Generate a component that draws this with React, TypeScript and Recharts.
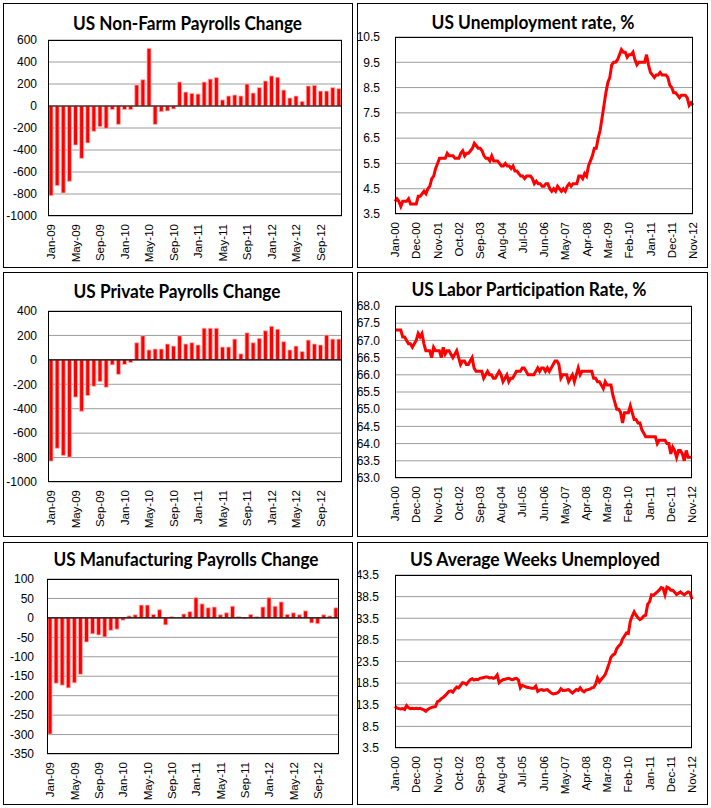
import React from 'react';
import { BarChart, Bar, LineChart, Line, XAxis, YAxis, CartesianGrid, ReferenceLine } from 'recharts';

// ---------- categories ----------
const MONTH_NAMES = ['Jan', 'Feb', 'Mar', 'Apr', 'May', 'Jun', 'Jul', 'Aug', 'Sep', 'Oct', 'Nov', 'Dec'];
function monthLabels(startYear: number, count: number): string[] {
  const out: string[] = [];
  for (let i = 0; i < count; i++) {
    const y = startYear + Math.floor(i / 12);
    out.push(`${MONTH_NAMES[i % 12]}-${String(y % 100).padStart(2, '0')}`);
  }
  return out;
}
const PAYROLL_MONTHS = monthLabels(2009, 48); // Jan-09 .. Dec-12
const LONG_MONTHS = monthLabels(2000, 155); // Jan-00 .. Nov-12

// ---------- series (thousands / %) ----------
const NONFARM = [
  -815, -724, -791, -685, -355, -476, -336, -230, -188, -203, -33, -167,
  -33, -33, 191, 239, 524, -167, -52, -45, -27, 218, 127, 115,
  109, 218, 245, 258, 55, 91, 100, 91, 200, 118, 167, 227,
  273, 261, 145, 73, 91, 42, 182, 188, 136, 136, 167, 158,
];
const PRIVATE = [
  -829, -724, -783, -797, -305, -421, -292, -216, -178, -224, -41, -119,
  -38, -22, 140, 197, 81, 89, 89, 130, 113, 197, 130, 140,
  122, 259, 259, 259, 105, 105, 170, 49, 221, 140, 176, 238,
  275, 251, 149, 81, 113, 68, 162, 130, 122, 203, 170, 170,
];
const MANUFACTURING = [
  -299, -168, -173, -180, -167, -145, -62, -41, -44, -49, -32, -29,
  -6, 5, 8, 33, 33, 9, 21, -18, 3, 0, 10, 16,
  52, 36, 26, 28, 8, 13, 30, 3, -2, 9, 3, 28,
  52, 30, 41, 9, 13, 8, 18, -13, -15, 8, 5, 26,
];
const UNEMPLOYMENT_RATE = [
  4.0, 4.1, 4.0, 3.8, 4.0, 4.0, 4.0, 4.1, 3.9, 3.9, 3.9, 3.9,
  4.2, 4.2, 4.3, 4.4, 4.3, 4.5, 4.6, 4.9, 5.0, 5.3, 5.5, 5.7,
  5.7, 5.7, 5.7, 5.9, 5.8, 5.8, 5.8, 5.7, 5.7, 5.7, 5.9, 6.0,
  5.8, 5.9, 5.9, 6.0, 6.1, 6.3, 6.2, 6.1, 6.1, 6.0, 5.8, 5.7,
  5.7, 5.6, 5.8, 5.6, 5.6, 5.6, 5.5, 5.4, 5.4, 5.5, 5.4, 5.4,
  5.3, 5.4, 5.2, 5.2, 5.1, 5.0, 5.0, 4.9, 5.0, 5.0, 5.0, 4.9,
  4.7, 4.8, 4.7, 4.7, 4.6, 4.6, 4.7, 4.7, 4.5, 4.4, 4.5, 4.4,
  4.6, 4.5, 4.4, 4.5, 4.4, 4.6, 4.7, 4.6, 4.7, 4.7, 4.7, 5.0,
  5.0, 4.9, 5.1, 5.0, 5.4, 5.6, 5.8, 6.1, 6.1, 6.5, 6.8, 7.3,
  7.8, 8.3, 8.7, 8.9, 9.4, 9.5, 9.5, 9.6, 9.8, 10.0, 9.9, 9.9,
  9.7, 9.8, 9.8, 9.9, 9.6, 9.4, 9.5, 9.5, 9.5, 9.5, 9.8, 9.4,
  9.1, 9.0, 8.9, 9.0, 9.0, 9.1, 9.0, 9.0, 9.0, 8.9, 8.6, 8.5,
  8.3, 8.3, 8.2, 8.1, 8.2, 8.2, 8.2, 8.1, 7.8, 7.9, 7.8,
];
const PARTICIPATION_RATE = [
  67.3, 67.3, 67.3, 67.3, 67.1, 67.1, 67.0, 66.9, 66.9, 66.8, 66.9, 67.0,
  67.2, 67.1, 67.2, 66.9, 66.7, 66.7, 66.7, 66.5, 66.8, 66.7, 66.7, 66.7,
  66.5, 66.8, 66.6, 66.7, 66.7, 66.6, 66.5, 66.6, 66.7, 66.5, 66.3, 66.4,
  66.4, 66.3, 66.3, 66.4, 66.5, 66.2, 66.1, 66.1, 66.1, 66.1, 65.9, 66.0,
  66.1, 66.0, 66.0, 65.9, 65.9, 66.0, 66.1, 66.0, 65.8, 65.9, 66.0, 65.8,
  65.9, 65.9, 66.0, 66.1, 66.1, 66.1, 66.2, 66.2, 66.1, 66.0, 66.0, 66.0,
  66.0, 66.1, 66.2, 66.1, 66.2, 66.2, 66.1, 66.2, 66.1, 66.2, 66.3, 66.4,
  66.4, 66.3, 65.9, 66.0, 66.0, 66.0, 65.8, 65.9, 66.0, 65.8, 66.0, 66.2,
  66.0, 66.1, 66.1, 66.1, 66.1, 66.1, 66.1, 65.9, 65.9, 65.8, 65.8, 65.7,
  65.6, 65.8, 65.7, 65.7, 65.7, 65.4, 65.2, 65.0, 65.0, 64.9, 64.6, 64.9,
  64.9, 64.9, 65.1, 64.9, 64.7, 64.7, 64.6, 64.6, 64.4, 64.3, 64.2, 64.2,
  64.2, 64.2, 64.2, 64.2, 64.0, 64.1, 64.1, 64.1, 64.1, 64.0, 64.0, 63.7,
  63.9, 63.8, 63.6, 63.8, 63.8, 63.7, 63.5, 63.8, 63.6, 63.6, 63.6,
];
const AVG_WEEKS_UNEMPLOYED = [
  13.1, 12.7, 12.6, 12.5, 12.6, 12.4, 13.3, 12.8, 12.6, 12.7, 12.6, 12.7,
  12.6, 12.7, 12.5, 12.3, 12.0, 12.4, 12.7, 12.9, 13.0, 13.1, 14.2, 14.4,
  14.9, 15.2, 15.6, 16.1, 16.6, 16.7, 16.4, 17.1, 17.6, 17.4, 18.0, 18.6,
  18.5, 18.2, 18.8, 19.3, 19.5, 19.2, 19.4, 19.3, 19.6, 19.7, 19.8, 19.9,
  19.9, 19.7, 19.8, 19.6, 19.8, 20.4, 18.6, 19.0, 19.3, 19.4, 19.5, 19.6,
  19.4, 19.3, 19.5, 19.6, 19.2, 17.4, 18.0, 17.8, 17.6, 17.5, 17.4, 17.3,
  17.3, 17.8, 16.6, 16.9, 17.0, 16.8, 16.9, 17.0, 16.6, 16.2, 16.0, 16.1,
  16.2, 16.5, 17.2, 16.8, 16.8, 16.9, 17.0, 16.6, 16.2, 16.6, 17.0, 16.8,
  17.4, 16.8, 16.5, 16.9, 17.0, 17.1, 17.4, 17.5, 18.2, 19.7, 18.8, 19.4,
  19.9, 20.5, 21.7, 23.0, 24.5, 25.0, 25.3, 26.5, 27.1, 27.5, 28.7, 29.4,
  30.1, 30.0, 32.8, 34.0, 35.0, 34.2, 33.6, 33.2, 33.5, 34.0, 34.2, 36.7,
  37.3, 38.9, 38.8, 39.2, 39.6, 40.0, 40.6, 40.4, 38.9, 40.7, 40.5, 40.0,
  40.0, 39.5, 39.0, 39.3, 39.6, 39.2, 38.9, 39.3, 39.6, 39.4, 37.9,
];

// ---------- tick values ----------
const NONFARM_TICKS = [-1000, -800, -600, -400, -200, 0, 200, 400, 600];
const PRIVATE_TICKS = [-1000, -800, -600, -400, -200, 0, 200, 400];
const MANUF_TICKS = [-350, -300, -250, -200, -150, -100, -50, 0, 50, 100];
const UNEMP_TICKS = [3.5, 4.5, 5.5, 6.5, 7.5, 8.5, 9.5, 10.5];
const PART_TICKS = [63.0, 63.5, 64.0, 64.5, 65.0, 65.5, 66.0, 66.5, 67.0, 67.5, 68.0];
const WEEKS_TICKS = [3.5, 8.5, 13.5, 18.5, 23.5, 28.5, 33.5, 38.5, 43.5];

// ---------- layout / style ----------
const TICK_FONT = '"Liberation Sans", Arial, sans-serif';
const TITLE_FONT = 'Lato, "Open Sans", sans-serif';
const RED = '#ff0000';
const GRID = '#9c9c9c';

type Box = { x0: number; y0: number; x1: number; y1: number };
type PanelCfg = {
  kind: 'bar' | 'line';
  title: string;
  titleCx: number;
  titleCy: number;
  titleW: number;
  panel: Box;
  plot: Box;
  labels: string[];
  values: number[];
  ticks: number[];
  decimals: number;
  interval: number;
  yGap: number;
};

const PANELS: PanelCfg[] = [
  {
    kind: 'bar', title: 'US Non-Farm Payrolls Change', titleCx: 187.5, titleCy: 23, titleW: 229,
    panel: { x0: 3, y0: 3, x1: 353, y1: 268 }, plot: { x0: 48, y0: 40, x1: 342, y1: 216 },
    labels: PAYROLL_MONTHS, values: NONFARM, ticks: NONFARM_TICKS, decimals: 0, interval: 3, yGap: 11,
  },
  {
    kind: 'line', title: 'US Unemployment rate, %', titleCx: 533, titleCy: 22, titleW: 203,
    panel: { x0: 357, y0: 3, x1: 708, y1: 268 }, plot: { x0: 395, y0: 37, x1: 693, y1: 214 },
    labels: LONG_MONTHS, values: UNEMPLOYMENT_RATE, ticks: UNEMP_TICKS, decimals: 1, interval: 10, yGap: 15,
  },
  {
    kind: 'bar', title: 'US Private Payrolls Change', titleCx: 177, titleCy: 291, titleW: 207,
    panel: { x0: 3, y0: 272, x1: 353, y1: 537 }, plot: { x0: 48, y0: 311, x1: 342, y1: 482 },
    labels: PAYROLL_MONTHS, values: PRIVATE, ticks: PRIVATE_TICKS, decimals: 0, interval: 3, yGap: 11,
  },
  {
    kind: 'line', title: 'US Labor Participation Rate, %', titleCx: 529, titleCy: 289, titleW: 235,
    panel: { x0: 357, y0: 272, x1: 708, y1: 537 }, plot: { x0: 395, y0: 306, x1: 692, y1: 478 },
    labels: LONG_MONTHS, values: PARTICIPATION_RATE, ticks: PART_TICKS, decimals: 1, interval: 10, yGap: 15,
  },
  {
    kind: 'bar', title: 'US Manufacturing Payrolls Change', titleCx: 186, titleCy: 559, titleW: 265,
    panel: { x0: 3, y0: 542, x1: 353, y1: 805 }, plot: { x0: 47, y0: 579, x1: 339, y1: 754 },
    labels: PAYROLL_MONTHS, values: MANUFACTURING, ticks: MANUF_TICKS, decimals: 0, interval: 3, yGap: 13,
  },
  {
    kind: 'line', title: 'US Average Weeks Unemployed', titleCx: 535, titleCy: 559, titleW: 250,
    panel: { x0: 357, y0: 542, x1: 708, y1: 805 }, plot: { x0: 395, y0: 575, x1: 692, y1: 748 },
    labels: LONG_MONTHS, values: AVG_WEEKS_UNEMPLOYED, ticks: WEEKS_TICKS, decimals: 1, interval: 10, yGap: 16,
  },
];

function RotTick(props: any) {
  const { x, y, payload } = props;
  return (
    <text
      x={x}
      y={y}
      transform={`rotate(-90, ${x}, ${y})`}
      textAnchor="end"
      dy="0.36em"
      fontSize={11.5}
      fontFamily={TICK_FONT}
      fill="#000"
    >
      {payload.value}
    </text>
  );
}

function Panel({ cfg }: { cfg: PanelCfg }) {
  const { panel, plot } = cfg;
  const W = panel.x1 - panel.x0;
  const H = panel.y1 - panel.y0;
  const data = cfg.labels.map((m, i) => ({ m, v: cfg.values[i] }));
  const yw = plot.x0 - panel.x0;
  const xh = panel.y1 - plot.y1;
  const margin = { top: plot.y0 - panel.y0, right: panel.x1 - plot.x1, bottom: 0, left: 0 };
  const domain: [number, number] = [cfg.ticks[0], cfg.ticks[cfg.ticks.length - 1]];
  const fmt = (v: number) => v.toFixed(cfg.decimals);

  const xAxis = (
    <XAxis
      dataKey="m"
      interval={cfg.interval}
      tick={(p: any) => <RotTick {...p} />}
      tickLine={false}
      axisLine={false}
      tickSize={0}
      tickMargin={8}
      height={xh}
    />
  );
  const yAxis = (
    <YAxis
      type="number"
      domain={domain}
      ticks={cfg.ticks}
      interval={0}
      allowDataOverflow
      width={yw}
      tickLine={false}
      axisLine={false}
      tickSize={0}
      tickMargin={cfg.yGap}
      tickFormatter={fmt}
      tick={{ fontSize: 12, fontFamily: TICK_FONT, fill: '#000' }}
    />
  );

  return (
    <>
      <div
        style={{
          position: 'absolute',
          left: panel.x0,
          top: panel.y0,
          width: W,
          height: H,
          boxSizing: 'border-box',
          border: '1px solid #000',
        }}
      />
      <div style={{ position: 'absolute', left: panel.x0, top: panel.y0, width: W, height: H }}>
        {cfg.kind === 'bar' ? (
          <BarChart width={W} height={H} data={data} margin={margin} barSize={4}>
            <CartesianGrid vertical={false} stroke={GRID} />
            {xAxis}
            {yAxis}
            <Bar dataKey="v" fill={RED} stroke="#ffb4b4" strokeWidth={0.8} isAnimationActive={false} />
            <ReferenceLine y={0} stroke="#000" strokeWidth={1.2} />
          </BarChart>
        ) : (
          <LineChart width={W} height={H} data={data} margin={margin}>
            <CartesianGrid vertical={false} stroke={GRID} />
            {xAxis}
            {yAxis}
            <Line
              type="linear"
              dataKey="v"
              stroke={RED}
              strokeWidth={3}
              dot={false}
              activeDot={false}
              isAnimationActive={false}
            />
          </LineChart>
        )}
      </div>
      <div
        style={{
          position: 'absolute',
          left: plot.x0,
          top: plot.y0,
          width: plot.x1 - plot.x0,
          height: plot.y1 - plot.y0,
          boxSizing: 'border-box',
          border: '1px solid #000',
          pointerEvents: 'none',
        }}
      />
    </>
  );
}

export default function App() {
  const fs = 18.5;
  return (
    <div
      style={{
        position: 'absolute',
        left: 0,
        top: 0,
        width: 711,
        height: 808,
        background: '#fff',
        overflow: 'hidden',
      }}
    >
      {PANELS.map((cfg) => (
        <Panel key={cfg.title} cfg={cfg} />
      ))}
      <svg
        width={711}
        height={808}
        style={{ position: 'absolute', left: 0, top: 0, pointerEvents: 'none' }}
      >
        {PANELS.map((cfg) => (
          <text
            key={cfg.title}
            x={cfg.titleCx}
            y={cfg.titleCy + fs * 0.36}
            textAnchor="middle"
            fontFamily={TITLE_FONT}
            fontWeight={700}
            fontSize={fs}
            fill="#000"
            textLength={cfg.titleW}
            lengthAdjust="spacingAndGlyphs"
          >
            {cfg.title}
          </text>
        ))}
      </svg>
    </div>
  );
}
